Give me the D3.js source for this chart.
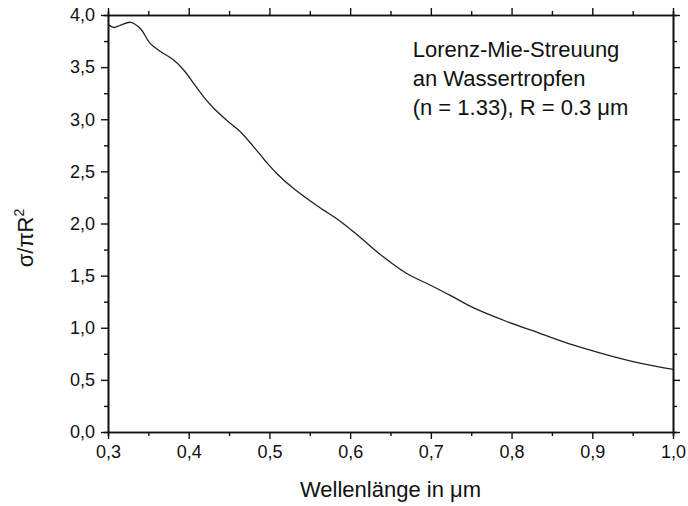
<!DOCTYPE html>
<html>
<head>
<meta charset="utf-8">
<script src="https://cdn.jsdelivr.net/npm/d3@7"></script>
<style>
    body { margin: 0; background: white; }
    svg { display: block; }
    text { font-family: "Liberation Sans", Arial, sans-serif; fill: #111; }
</style>
</head>
<body>
<div id="chart"></div>
<script>
// wavelength in micrometres
const wavelengths = [0.300, 0.307, 0.315, 0.328, 0.340, 0.352, 0.365, 0.381, 0.394, 0.406,
    0.418, 0.431, 0.447, 0.464, 0.480, 0.495, 0.509, 0.530, 0.559, 0.588,
    0.612, 0.641, 0.670, 0.699, 0.724, 0.753, 0.794, 0.835, 0.876, 0.918,
    0.959, 1.000];
// scattering cross section / geometric cross section
const crossSection = [3.91, 3.88, 3.90, 3.93, 3.87, 3.73, 3.65, 3.57, 3.47, 3.345,
    3.22, 3.105, 2.99, 2.88, 2.74, 2.60, 2.48, 2.335, 2.17, 2.02,
    1.87, 1.68, 1.52, 1.41, 1.31, 1.19, 1.06, 0.947, 0.835, 0.74,
    0.66, 0.60];
const xTicks = [0.3, 0.4, 0.5, 0.6, 0.7, 0.8, 0.9, 1.0];
const yTicks = [0, 0.5, 1, 1.5, 2, 2.5, 3, 3.5, 4];
const noteLines = ["Lorenz-Mie-Streuung", "an Wassertropfen", "(n = 1.33), R = 0.3 \u03bcm"];

const width = 688, height = 506;
const margin = { top: 15, right: 15, bottom: 74, left: 108 };
const w = width - margin.left - margin.right;
const h = height - margin.top - margin.bottom;

const svg = d3.select("#chart").append("svg")
    .attr("width", width)
    .attr("height", height);

const g = svg.append("g")
    .attr("transform", "translate(" + margin.left + "," + margin.top + ")");

const x = d3.scaleLinear().domain([0.3, 1.0]).range([0, w]);
const y = d3.scaleLinear().domain([0, 4]).range([h, 0]);

const fmt = d3.format(".1f");
const comma = (d) => fmt(d).replace(".", ",");

// minor ticks halfway between the majors
const xMinor = d3.range(0.35, 1.0, 0.1);
const yMinor = d3.range(0.25, 4.0, 0.5);

let styleAxis = (sel) => {
    sel.attr("font-size", null);
    sel.select(".domain").attr("stroke", "#111").attr("stroke-width", 1.6);
    sel.selectAll(".tick line").attr("stroke", "#111").attr("stroke-width", 1.4);
    sel.selectAll(".tick text").style("font-size", "18px").attr("fill", "#111");
}

// major axes
g.append("g").attr("transform", "translate(0," + h + ")")
    .call(d3.axisBottom(x).tickValues(xTicks).tickFormat(comma).tickSizeInner(7).tickSizeOuter(0).tickPadding(6))
    .call(styleAxis);
g.append("g")
    .call(d3.axisLeft(y).tickValues(yTicks).tickFormat(comma).tickSizeInner(7).tickSizeOuter(0).tickPadding(6))
    .call(styleAxis);
g.append("g")
    .call(d3.axisTop(x).tickValues(xTicks).tickFormat("").tickSizeInner(7).tickSizeOuter(0))
    .call(styleAxis);
g.append("g").attr("transform", "translate(" + w + ",0)")
    .call(d3.axisRight(y).tickValues(yTicks).tickFormat("").tickSizeInner(7).tickSizeOuter(0))
    .call(styleAxis);

// minor ticks
g.append("g").attr("transform", "translate(0," + h + ")")
    .call(d3.axisBottom(x).tickValues(xMinor).tickFormat("").tickSize(4)).call(styleAxis);
g.append("g")
    .call(d3.axisTop(x).tickValues(xMinor).tickFormat("").tickSize(4)).call(styleAxis);
g.append("g")
    .call(d3.axisLeft(y).tickValues(yMinor).tickFormat("").tickSize(4)).call(styleAxis);
g.append("g").attr("transform", "translate(" + w + ",0)")
    .call(d3.axisRight(y).tickValues(yMinor).tickFormat("").tickSize(4)).call(styleAxis);

// curve
const data = wavelengths.map((d, i) => ({ x: d, y: crossSection[i] }));
const line = d3.line()
    .x(d => x(d.x))
    .y(d => y(d.y))
    .curve(d3.curveCatmullRom.alpha(0.5));

g.append("path")
    .datum(data)
    .attr("fill", "none")
    .attr("stroke", "#222")
    .attr("stroke-width", 1.3)
    .attr("d", line);

// annotation
const note = g.append("text")
    .attr("y", 42)
    .style("font-size", "22px");
note.selectAll("tspan")
    .data(noteLines)
    .enter()
    .append("tspan")
    .attr("x", x(0.6775))
    .attr("dy", (d, i) => i == 0 ? 0 : 29)
    .text(d => d);

// x axis title
svg.append("text")
    .attr("x", margin.left + w / 2)
    .attr("y", 497)
    .attr("text-anchor", "middle")
    .style("font-size", "22px")
    .text("Wellenl\u00e4nge in \u03bcm");

// y axis title
const yTitle = svg.append("text")
    .attr("transform", "translate(33,238) rotate(-90)")
    .attr("text-anchor", "middle")
    .style("font-size", "22px");
yTitle.append("tspan").text("\u03c3/\u03c0R");
yTitle.append("tspan").attr("dy", -9).style("font-size", "14px").text("2");
</script>
</body>
</html>
